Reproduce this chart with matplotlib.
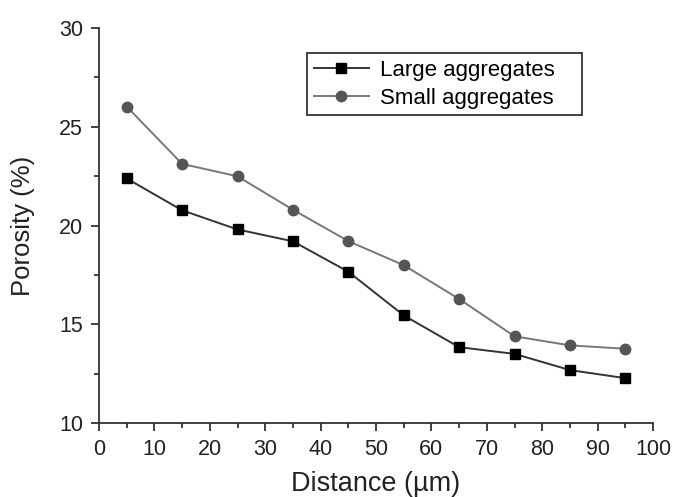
import matplotlib
matplotlib.use("Agg")
import matplotlib.pyplot as plt
from matplotlib.ticker import MultipleLocator

plt.rcParams['font.family'] = ['Liberation Sans', 'DejaVu Sans']

distance = [5, 15, 25, 35, 45, 55, 65, 75, 85, 95]
large = [22.38, 20.77, 19.8, 19.2, 17.66, 15.45, 13.84, 13.5, 12.68, 12.27]
small = [26.02, 23.12, 22.49, 20.8, 19.21, 17.99, 16.28, 14.39, 13.93, 13.76]

fig = plt.figure(figsize=(6.74, 4.97), dpi=100)
ax = fig.add_axes([99/674, 1-423/497, (653-99)/674, (423-28)/497])

ax.plot(distance, large, '-s', color='#333333', mfc='black', mec='black', ms=7, lw=1.4, label='Large aggregates')
ax.plot(distance, small, '-o', color='#777777', mfc='#555555', mec='#555555', ms=7.5, lw=1.4, label='Small aggregates')

ax.set_xlim(0, 100)
ax.set_ylim(10, 30)
ax.xaxis.set_major_locator(MultipleLocator(10))
ax.xaxis.set_minor_locator(MultipleLocator(5))
ax.yaxis.set_major_locator(MultipleLocator(5))
ax.yaxis.set_minor_locator(MultipleLocator(2.5))
for s in ['top', 'right']:
    ax.spines[s].set_visible(False)
for s in ['left', 'bottom']:
    ax.spines[s].set_color('#333333')
    ax.spines[s].set_linewidth(1.3)
ax.tick_params(which='major', direction='out', length=6, width=1.3, colors='#333333',
               labelsize=15.5, labelcolor='#222222', pad=5.5)
ax.tick_params(which='minor', direction='out', length=3.5, width=1.3, colors='#333333')

ax.set_xlabel('Distance (µm)', fontsize=19.5, color='#222222', labelpad=8)
ax.set_ylabel('Porosity (%)', fontsize=18.5, color='#222222', labelpad=17)

x0 = (307 - 99) / 554
w = (582 - 307) / 554
ytop = 1 - (53 - 28) / 395
h = (115 - 53) / 395
leg = ax.legend(loc='upper left', bbox_to_anchor=(x0, ytop - h, w, h), mode='expand', fontsize=16,
                frameon=True, fancybox=False, edgecolor='#333333', handlelength=2.5,
                borderpad=0.3, labelspacing=0.32, handletextpad=0.5, borderaxespad=0,
                framealpha=1)
leg.get_frame().set_linewidth(1.3)

fig.savefig('out.png', dpi=100)
